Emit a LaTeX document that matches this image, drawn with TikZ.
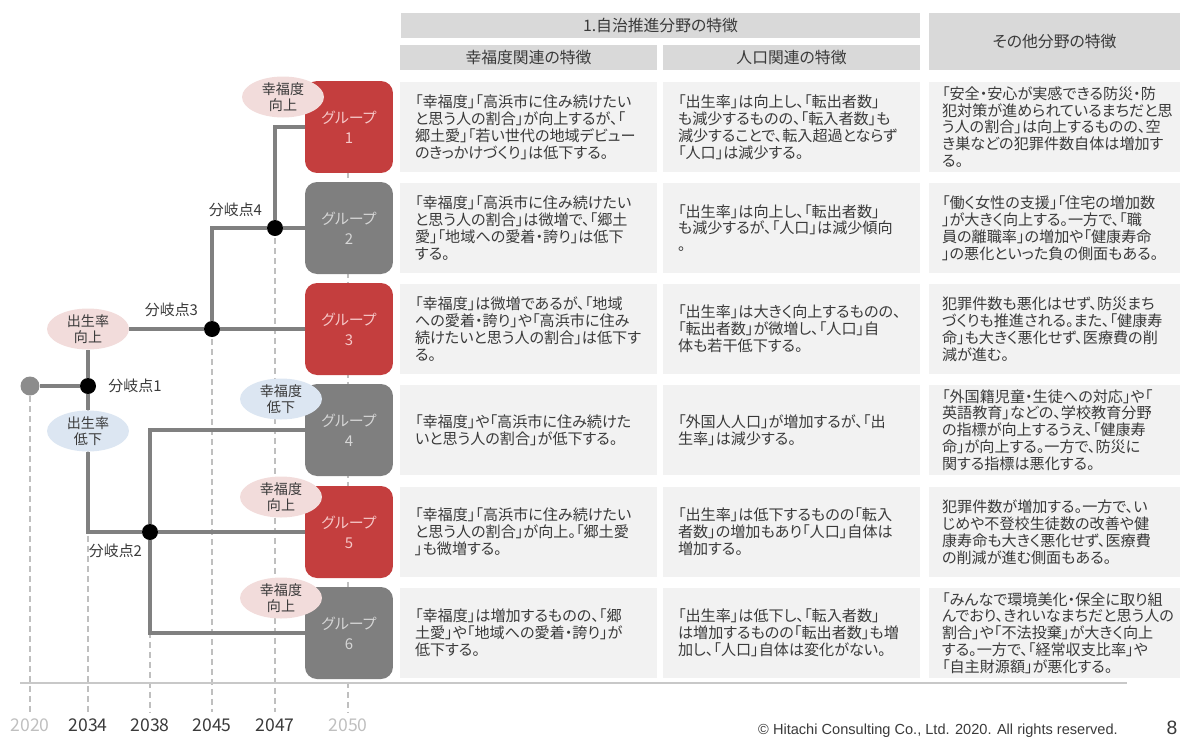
\documentclass[tikz,border=0pt]{standalone}
\usepackage{fontspec}
\setmainfont{Noto Sans CJK JP}[RawFeature=+palt]
\newfontfamily\footfont{Liberation Sans}
\usetikzlibrary{positioning,shapes.geometric}

\definecolor{textdark}{HTML}{3A3A3A}
\definecolor{linegray}{HTML}{808080}
\definecolor{startgray}{HTML}{8C8C8C}
\definecolor{dashgray}{HTML}{BFBFBF}
\definecolor{axisgray}{HTML}{C8C8C8}
\definecolor{headgray}{HTML}{D9D9D9}
\definecolor{cellgray}{HTML}{F2F2F2}
\definecolor{groupred}{HTML}{C43E3E}
\definecolor{groupgray}{HTML}{7F7F7F}
\definecolor{redtext}{HTML}{F5C8C8}
\definecolor{graytext}{HTML}{D6D6D6}
\definecolor{upfill}{HTML}{F2DCDB}
\definecolor{downfill}{HTML}{DCE6F2}

\begin{document}
\begin{tikzpicture}[x=0.02cm, y=-0.02cm,
  font=\fontsize{8.6}{9.6}\selectfont, text=textdark,
  head/.style={fill=headgray, inner sep=0pt, minimum height=0.5cm,
    font=\fontsize{9}{10}\selectfont},
  cell/.style={fill=cellgray, minimum height=1.8cm, inner xsep=0.3cm,
    inner ysep=0pt, align=left, text width=#1},
  cell/.default=4.54cm,
  groupbox/.style={rounded corners=0.24cm, minimum width=1.76cm,
    minimum height=1.84cm, inner sep=0pt, align=center,
    font=\fontsize{8.5}{11.5}\selectfont},
  redgroup/.style={groupbox, fill=groupred, text=redtext},
  graygroup/.style={groupbox, fill=groupgray, text=graytext},
  upell/.style={ellipse, fill=upfill, minimum width=1.64cm,
    minimum height=0.82cm, inner sep=0pt, align=center,
    font=\fontsize{8}{8.8}\selectfont},
  downell/.style={upell, fill=downfill},
  branchdot/.style={circle, fill=black, minimum size=0.32cm, inner sep=0pt},
  startdot/.style={circle, fill=startgray, minimum size=0.38cm, inner sep=0pt},
  conn/.style={draw=linegray, line width=0.08cm},
  yearline/.style={draw=dashgray, line width=0.6pt,
    dash pattern=on 0.12cm off 0.08cm},
  branchlabel/.style={font=\fontsize{8.5}{9}\selectfont, inner sep=1pt},
  yearlabel/.style={font=\fontsize{10}{10}\selectfont, inner sep=0pt},
  oldyear/.style={yearlabel, text=dashgray}
]

\useasboundingbox (0,0) rectangle (1182,738);

% Branch positions on the time axis
\coordinate (p0) at (30,386);
\coordinate (p1) at (88,386);
\coordinate (p2) at (150,532);
\coordinate (p3) at (212,329);
\coordinate (p4) at (275,228);
\coordinate (p5) at (348,82);

% Lower ends of the year lines
\coordinate (b2020) at (30,712);
\coordinate (b2034) at (88,712);
\coordinate (b2038) at (150,712);
\coordinate (b2045) at (212,712);
\coordinate (b2047) at (275,712);
\coordinate (b2050) at (348,712);

% Year lines
\draw[yearline] (p0) -- (b2020);
\draw[yearline] (p1) -- (b2034);
\draw[yearline] (p2) -- (b2038);
\draw[yearline] (p3) -- (b2045);
\draw[yearline] (p4) -- (b2047);
\draw[yearline] (p5) -- (b2050);

% Time axis
\coordinate (axl) at (20,683);
\coordinate (axr) at (1127,683);
\draw[axisgray, line width=0.7pt] (axl) -- (axr);

% Years
\node[oldyear, below=0.12cm of b2020] (y2020) {2020};
\node[yearlabel, below=0.12cm of b2034] (y2034) {2034};
\node[yearlabel, below=0.12cm of b2038] (y2038) {2038};
\node[yearlabel, below=0.12cm of b2045] (y2045) {2045};
\node[yearlabel, below=0.12cm of b2047] (y2047) {2047};
\node[oldyear, below=0.12cm of b2050] (y2050) {2050};

% Table header
\node[head, minimum width=10.38cm] (h1) at (660.5,25.5)
{1.自治推進分野の特徴};
\node[head, minimum width=5.14cm] (h2) at (528.5,57.5)
{幸福度関連の特徴};
\node[head, minimum width=5.14cm] (h3) at (791.5,57.5)
{人口関連の特徴};
\node[head, minimum width=5.02cm, minimum height=1.14cm] (h4) at (1054.5,41.5)
{その他分野の特徴};

% Row 1
\node[cell] (c11) at (528.5,127)
{「幸福度」「高浜市に住み続けたい\\と思う人の割合」が向上するが、「\\郷土愛」「若い世代の地域デビュー\\のきっかけづくり」は低下する。};
\node[cell] (c12) at (791.5,127)
{「出生率」は向上し、「転出者数」\\も減少するものの、「転入者数」も\\減少することで、転入超過とならず\\「人口」は減少する。};
\node[cell=4.5cm, inner xsep=0.26cm] (c13) at (1054.5,127)
{「安全・安心が実感できる防災・防\\犯対策が進められているまちだと思\\う人の割合」は向上するものの、空\\き巣などの犯罪件数自体は増加す\\る。};

% Row 2
\node[cell] (c21) at (528.5,228)
{「幸福度」「高浜市に住み続けたい\\と思う人の割合」は微増で、「郷土\\愛」「地域への愛着・誇り」は低下\\する。};
\node[cell] (c22) at (791.5,228)
{「出生率」は向上し、「転出者数」\\も減少するが、「人口」は減少傾向\\。};
\node[cell=4.5cm, inner xsep=0.26cm] (c23) at (1054.5,228)
{「働く女性の支援」「住宅の増加数\\」が大きく向上する。一方で、「職\\員の離職率」の増加や「健康寿命\\」の悪化といった負の側面もある。};

% Row 3
\node[cell] (c31) at (528.5,329)
{「幸福度」は微増であるが、「地域\\への愛着・誇り」や「高浜市に住み\\続けたいと思う人の割合」は低下す\\る。};
\node[cell] (c32) at (791.5,329)
{「出生率」は大きく向上するものの、\\「転出者数」が微増し、「人口」自\\体も若干低下する。};
\node[cell=4.5cm, inner xsep=0.26cm] (c33) at (1054.5,329)
{犯罪件数も悪化はせず、防災まち\\づくりも推進される。また、「健康寿\\命」も大きく悪化せず、医療費の削\\減が進む。};

% Row 4
\node[cell] (c41) at (528.5,430)
{「幸福度」や「高浜市に住み続けた\\いと思う人の割合」が低下する。};
\node[cell] (c42) at (791.5,430)
{「外国人人口」が増加するが、「出\\生率」は減少する。};
\node[cell=4.5cm, inner xsep=0.26cm] (c43) at (1054.5,430)
{「外国籍児童・生徒への対応」や「\\英語教育」などの、学校教育分野\\の指標が向上するうえ、「健康寿\\命」が向上する。一方で、防災に\\関する指標は悪化する。};

% Row 5
\node[cell] (c51) at (528.5,532)
{「幸福度」「高浜市に住み続けたい\\と思う人の割合」が向上。「郷土愛\\」も微増する。};
\node[cell] (c52) at (791.5,532)
{「出生率」は低下するものの「転入\\者数」の増加もあり「人口」自体は\\増加する。};
\node[cell=4.5cm, inner xsep=0.26cm] (c53) at (1054.5,532)
{犯罪件数が増加する。一方で、い\\じめや不登校生徒数の改善や健\\康寿命も大きく悪化せず、医療費\\の削減が進む側面もある。};

% Row 6
\node[cell] (c61) at (528.5,633)
{「幸福度」は増加するものの、「郷\\土愛」や「地域への愛着・誇り」が\\低下する。};
\node[cell] (c62) at (791.5,633)
{「出生率」は低下し、「転入者数」\\は増加するものの「転出者数」も増\\加し、「人口」自体は変化がない。};
\node[cell=4.5cm, inner xsep=0.26cm] (c63) at (1054.5,633)
{「みんなで環境美化・保全に取り組\\んでおり、きれいなまちだと思う人の\\割合」や「不法投棄」が大きく向上\\する。一方で、「経常収支比率」や\\「自主財源額」が悪化する。};

% Groups
\node[redgroup] (g1) at (349,127) {グループ\\1};
\node[graygroup] (g2) at (349,228) {グループ\\2};
\node[redgroup] (g3) at (349,329) {グループ\\3};
\node[graygroup] (g4) at (349,430) {グループ\\4};
\node[redgroup] (g5) at (349,532) {グループ\\5};
\node[graygroup] (g6) at (349,633) {グループ\\6};

% Birth rate
\node[upell] (bup) at (88,329) {出生率\\向上};
\node[downell] (bdown) at (88,431) {出生率\\低下};

% Happiness
\node[upell] (hp1) at (283,97) {幸福度\\向上};
\node[downell] (hp4) at (281,399) {幸福度\\低下};
\node[upell] (hp5) at (281,497) {幸福度\\向上};
\node[upell] (hp6) at (281,598) {幸福度\\向上};

% Branch points
\node[startdot] (st) at (p0) {};
\node[branchdot] (d1) at (p1) {};
\node[branchdot] (d2) at (p2) {};
\node[branchdot] (d3) at (p3) {};
\node[branchdot] (d4) at (p4) {};

\node[branchlabel, right=0.2cm of d1] (l1) {分岐点1};
\node[branchlabel, below left=0.08cm and 0cm of d2] (l2) {分岐点2};
\node[branchlabel, above left=0.08cm and 0.12cm of d3] (l3) {分岐点3};
\node[branchlabel, above left=0.06cm and 0.1cm of d4] (l4) {分岐点4};

% Connectors
\draw[conn] (st) -- (d1);
\draw[conn] (d1) -- (bup);
\draw[conn] (d1) -- (bdown);
\draw[conn] (bup) -- (d3);
\draw[conn] (d3) -- (g3);
\draw[conn] (d3) |- (d4);
\draw[conn] (d4) -- (g2);
\draw[conn] (d4) |- (g1);
\draw[conn] (bdown) |- (d2);
\draw[conn] (d2) -- (g5);
\draw[conn] (d2) |- (g4);
\draw[conn] (d2) |- (g6);

% Footer
\node[font=\footfont\fontsize{8.3}{9}\selectfont] (copy) at (938,731)
{© Hitachi Consulting Co., Ltd. 2020. All rights reserved.};
\node[font=\footfont\fontsize{11}{11}\selectfont] (page) at (1172,728) {8};

\end{tikzpicture}
\end{document}
